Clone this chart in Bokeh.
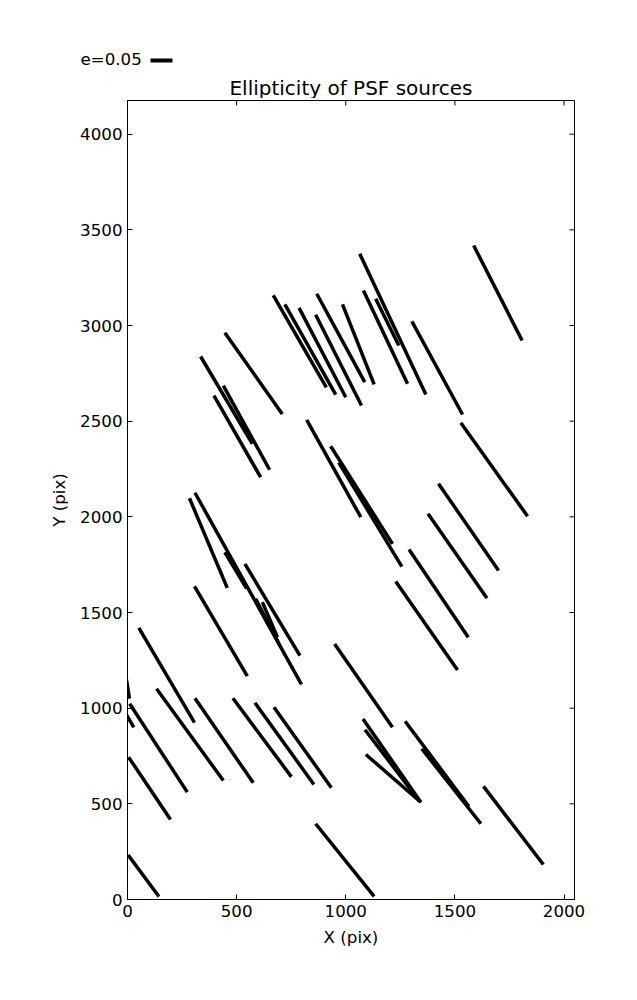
import math
from bokeh.plotting import figure
from bokeh.models import Range1d, FixedTicker
from bokeh.layouts import column
from bokeh.core.properties import value
from bokeh.embed import file_html
from bokeh.resources import INLINE

# Whisker segments (data units, pixels of the detector)
x0 = [1586, 1064, 1081, 1137, 1303, 1527, 985, 867, 862, 786, 721, 668, 446, 335, 396, 439,
      821, 931, 968, 1425, 1377, 1290, 1229, 949, 309, 284, 446, 587, 618, 538, 307, 52,
      -5, 10, -10, 133, 309, 483, 584, 671, 5, 3, 862, 1079, 1088, 1092, 1272, 1348, 1631]
y0 = [3418, 3375, 3183, 3140, 3022, 2492, 3110, 3166, 3056, 3092, 3110, 3157, 2962, 2838, 2634, 2686,
      2507, 2369, 2284, 2173, 2016, 1829, 1662, 1336, 2126, 2097, 1815, 1572, 1554, 1754, 1637, 1420,
      1150, 1023, 975, 1101, 1052, 1052, 1028, 1005, 744, 232, 396, 944, 887, 758, 932, 788, 591]
x1 = [1808, 1367, 1283, 1243, 1535, 1833, 1130, 1087, 1072, 1000, 954, 911, 709, 572, 610, 651,
      1069, 1214, 1257, 1700, 1647, 1561, 1512, 1214, 797, 457, 546, 694, 687, 790, 549, 307,
      9, 274, 29, 439, 576, 751, 854, 934, 197, 144, 1130, 1344, 1336, 1344, 1564, 1619, 1905]
y1 = [2922, 2639, 2695, 2895, 2535, 2003, 2692, 2704, 2582, 2625, 2639, 2677, 2538, 2382, 2207, 2246,
      1998, 1859, 1740, 1720, 1575, 1371, 1200, 900, 1124, 1629, 1625, 1336, 1371, 1275, 1167, 924,
      1050, 561, 900, 622, 610, 641, 601, 584, 418, 16, 16, 508, 517, 508, 486, 396, 183]

x_ticks = [0, 500, 1000, 1500, 2000]
y_ticks = [0, 500, 1000, 1500, 2000, 2500, 3000, 3500, 4000]
X_MAX, Y_MAX = 2048, 4176
key_label = "e=0.05"
title_text = "Ellipticity of PSF sources"

FONT = "DejaVu Sans"
TOTAL_W = 620
LEFT = 127
FRAME_W = 447
FRAME_H = 799
HEAD_H = 98          # header strip (key + title) above the axes frame

# ---- main axes ----
p = figure(frame_width=FRAME_W, frame_height=FRAME_H,
           x_range=Range1d(0, X_MAX), y_range=Range1d(0, Y_MAX),
           output_backend="svg", toolbar_location=None,
           min_border_left=LEFT, min_border_top=100 - HEAD_H,
           min_border_right=TOTAL_W - LEFT - FRAME_W, min_border_bottom=60)
p.frame_align = False
p.background_fill_color = "white"
p.border_fill_color = "white"
p.outline_line_color = "black"
p.outline_line_width = 1
p.grid.visible = False

def style_axis(ax, ticks, label):
    ax.ticker = FixedTicker(ticks=ticks)
    ax.major_tick_in = 5
    ax.major_tick_out = 0
    ax.minor_tick_line_color = None
    ax.major_tick_line_color = "black"
    ax.axis_line_color = "black"
    ax.major_label_text_font = FONT
    ax.major_label_text_color = "black"
    ax.major_label_text_font_size = "16.67px"
    ax.major_label_standoff = 5
    ax.axis_label = label
    ax.axis_label_text_font = FONT
    ax.axis_label_text_font_size = "16.67px"
    ax.axis_label_text_font_style = "normal"
    ax.axis_label_text_color = "black"
    ax.axis_label_standoff = 8

style_axis(p.xaxis[0], x_ticks, "X (pix)")
style_axis(p.yaxis[0], y_ticks, "Y (pix)")

# inward ticks on the top and right spines (half of each dash is clipped by the frame)
p.scatter(x=x_ticks, y=[Y_MAX] * len(x_ticks), marker="dash", angle=math.pi / 2,
          size=10, line_color="black", line_width=1)
p.scatter(x=[X_MAX] * len(y_ticks), y=y_ticks, marker="dash", angle=0,
          size=10, line_color="black", line_width=1)

p.segment(x0=x0, y0=y0, x1=x1, y1=y1, line_color="black", line_width=3.5, line_cap="butt")

# ---- header strip: quiver key and title ----
h = figure(width=TOTAL_W, height=HEAD_H, x_range=Range1d(0, TOTAL_W), y_range=Range1d(HEAD_H, 0),
           x_axis_type=None, y_axis_type=None, min_border=0,
           output_backend="svg", toolbar_location=None)
h.frame_align = False
h.outline_line_color = None
h.grid.visible = False
h.background_fill_color = "white"
h.border_fill_color = "white"
h.text(x=[80], y=[59], text=[key_label], text_font=value(FONT), text_font_size="16.67px",
       text_align="left", text_baseline="middle", text_color="black")
h.segment(x0=[150], y0=[60], x1=[172], y1=[60], line_color="black", line_width=4, line_cap="butt")
h.text(x=[LEFT + FRAME_W / 2], y=[87], text=[title_text], text_font=value(FONT), text_font_size="20px",
       text_align="center", text_baseline="middle", text_color="black")

layout = column(h, p, spacing=0)
open("out.html", "w").write(file_html(layout, INLINE))
